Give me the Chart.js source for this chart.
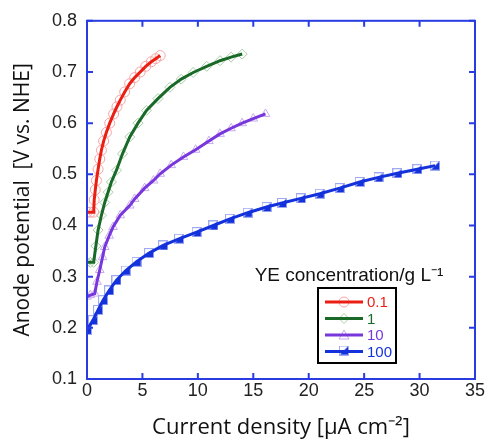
<!DOCTYPE html>
<html>
<head>
<meta charset="utf-8">
<script src="https://cdn.jsdelivr.net/npm/chart.js@4.4.1/dist/chart.umd.min.js"></script>
<style>
  html, body { margin: 0; padding: 0; background: #fff; }
  #wrap { width: 487px; height: 441px; }
</style>
</head>
<body>
<div id="wrap"><canvas id="anodeChart" width="487" height="441"></canvas></div>
<script>
// YE concentration series (g/L)
const seriesLabels = ['0.1', '1', '10', '100']

// current density [uA cm-2] and anode potential [V vs NHE]
const x01 = [0, 0.3, 0.6, 0.65, 0.75, 0.85, 1.0, 1.15, 1.3, 1.5, 1.75, 2.05, 2.4, 2.7, 3.0, 3.4, 3.85, 4.3, 4.8, 5.3, 5.8, 6.2, 6.6]
const y01 = [0.426, 0.426, 0.426, 0.45, 0.47, 0.488, 0.51, 0.53, 0.547, 0.565, 0.582, 0.6, 0.618, 0.632, 0.645, 0.661, 0.677, 0.689, 0.7, 0.711, 0.72, 0.726, 0.732]

const x1 = [0, 0.3, 0.6, 0.8, 1.0, 1.3, 1.6, 1.9, 2.2, 2.66, 3.2, 3.86, 4.6, 5.37, 6.4, 7.48, 8.5, 9.58, 10.8, 12.0, 13.0, 14.0]
const y1 = [0.328, 0.328, 0.328, 0.36, 0.391, 0.42, 0.445, 0.465, 0.485, 0.508, 0.54, 0.573, 0.6, 0.625, 0.648, 0.67, 0.686, 0.699, 0.711, 0.722, 0.729, 0.735]

const x10 = [0, 0.3, 0.7, 0.9, 1.15, 1.4, 1.6, 2.0, 2.35, 3.0, 3.86, 4.3, 5.2, 6.0, 6.6, 7.6, 8.7, 9.8, 11.0, 12.0, 13.0, 14.0, 15.0, 16.1]
const y10 = [0.261, 0.264, 0.267, 0.29, 0.313, 0.338, 0.358, 0.38, 0.397, 0.42, 0.439, 0.452, 0.473, 0.488, 0.501, 0.518, 0.534, 0.548, 0.565, 0.579, 0.59, 0.6, 0.609, 0.618]

const x100 = [0, 0.54, 1.0, 1.45, 2.0, 2.66, 3.5, 4.47, 5.6, 6.87, 8.3, 9.89, 11.4, 12.9, 14.5, 16.2, 17.6, 19.3, 21.0, 22.8, 24.6, 26.3, 28.0, 29.8, 31.4]
const y100 = [0.196, 0.215, 0.235, 0.254, 0.273, 0.293, 0.312, 0.329, 0.346, 0.361, 0.374, 0.387, 0.4, 0.413, 0.425, 0.436, 0.444, 0.453, 0.462, 0.473, 0.485, 0.494, 0.502, 0.51, 0.517]

const xTicks = [0, 5, 10, 15, 20, 25, 30, 35]
const yTicks = [0.1, 0.2, 0.3, 0.4, 0.5, 0.6, 0.7, 0.8]

const axisBlue = 'rgb(40, 60, 225)'
const lineColors = ['rgb(235, 30, 20)', 'rgb(25, 105, 40)', 'rgb(120, 55, 220)', 'rgb(20, 50, 220)']
const markColors = ['rgb(245, 165, 165)', 'rgb(165, 205, 165)', 'rgb(200, 170, 240)', 'rgb(160, 170, 240)']

const toPoints = (xs, ys) => xs.map((x, i) => ({ x, y: ys[i] }))

// square marker with filled lower-right triangle for 100 g/L
const makeHalfSquare = (size) => {
  const c = document.createElement('canvas')
  c.width = size
  c.height = size
  const g = c.getContext('2d')
  g.fillStyle = 'rgba(255,255,255,0.6)'
  g.fillRect(1, 1, size - 2, size - 2)
  g.strokeStyle = markColors[3]
  g.lineWidth = 1
  g.strokeRect(0.5, 0.5, size - 1, size - 1)
  g.beginPath()
  g.moveTo(1, size - 1)
  g.lineTo(size - 1, 1)
  g.lineTo(size - 1, size - 1)
  g.closePath()
  g.fillStyle = lineColors[3]
  g.fill()
  return c
}
const halfSquare = makeHalfSquare(10)

const pointStyles = ['circle', 'rectRot', 'triangle', halfSquare]
const pointRadii = [5, 5, 5, 5]
const allPoints = [toPoints(x01, y01), toPoints(x1, y1), toPoints(x10, y10), toPoints(x100, y100)]

const markerSets = allPoints.map((pts, i) => ({
  label: seriesLabels[i] + ' markers',
  data: pts,
  showLine: false,
  pointStyle: pointStyles[i],
  pointRadius: pointRadii[i],
  pointBorderColor: markColors[i],
  pointBackgroundColor: 'rgba(255,255,255,0)',
  pointBorderWidth: 1,
  order: 1,
}))

const lineSets = allPoints.map((pts, i) => ({
  label: seriesLabels[i],
  data: pts,
  borderColor: lineColors[i],
  borderWidth: 3,
  pointRadius: 0,
  tension: 0,
  order: 0,
}))

// frame, inward ticks, legend box
const frameAndLegend = {
  id: 'frameAndLegend',
  afterDatasetsDraw(chart) {
    const { ctx, chartArea: a, scales } = chart
    ctx.save()
    ctx.strokeStyle = axisBlue
    ctx.lineWidth = 2
    ctx.strokeRect(a.left, a.top, a.right - a.left, a.bottom - a.top)
    ctx.beginPath()
    xTicks.forEach((v) => {
      const px = scales.x.getPixelForValue(v)
      ctx.moveTo(px, a.bottom)
      ctx.lineTo(px, a.bottom - 6)
      ctx.moveTo(px, a.top)
      ctx.lineTo(px, a.top + 6)
    })
    yTicks.forEach((v) => {
      const py = scales.y.getPixelForValue(v)
      ctx.moveTo(a.left, py)
      ctx.lineTo(a.left + 6, py)
      ctx.moveTo(a.right, py)
      ctx.lineTo(a.right - 6, py)
    })
    ctx.stroke()

    // legend title
    ctx.fillStyle = '#111'
    ctx.font = '19px "Liberation Sans", Arial, sans-serif'
    ctx.textAlign = 'center'
    ctx.textBaseline = 'alphabetic'
    ctx.fillText('YE concentration/g L\u207B\u00B9', 349, 281)

    // legend box
    ctx.strokeStyle = '#000'
    ctx.lineWidth = 2
    ctx.strokeRect(318, 288, 78, 75)
    ctx.font = '15px "Liberation Sans", Arial, sans-serif'
    ctx.textAlign = 'left'
    ctx.textBaseline = 'middle'
    seriesLabels.forEach((lab, i) => {
      const y = 302 + i * 16.5
      const mx = 344
      // marker
      ctx.strokeStyle = markColors[i]
      ctx.lineWidth = 1
      ctx.beginPath()
      if (i === 0) {
        ctx.arc(mx, y, 5, 0, Math.PI * 2)
        ctx.stroke()
      } else if (i === 1) {
        ctx.moveTo(mx, y - 5); ctx.lineTo(mx + 5, y); ctx.lineTo(mx, y + 5); ctx.lineTo(mx - 5, y); ctx.closePath()
        ctx.stroke()
      } else if (i === 2) {
        ctx.moveTo(mx, y - 5); ctx.lineTo(mx + 5, y + 4); ctx.lineTo(mx - 5, y + 4); ctx.closePath()
        ctx.stroke()
      } else {
        ctx.drawImage(halfSquare, mx - 5, y - 6)
      }
      ctx.strokeStyle = lineColors[i]
      ctx.lineWidth = 3
      ctx.beginPath()
      ctx.moveTo(325, y)
      ctx.lineTo(363, y)
      ctx.stroke()
      ctx.fillStyle = lineColors[i]
      ctx.fillText(lab, 367, y + 1)
    })
    ctx.restore()
  },
}

new Chart(document.getElementById('anodeChart').getContext('2d'), {
  type: 'line',
  data: { datasets: [...markerSets, ...lineSets] },
  options: {
    responsive: false,
    animation: false,
    layout: { padding: { left: 10, top: 20, right: 12, bottom: 0 } },
    plugins: { legend: { display: false }, tooltip: { enabled: false } },
    scales: {
      x: {
        type: 'linear',
        min: 0,
        max: 35,
        afterBuildTicks: (s) => { s.ticks = xTicks.map((v) => ({ value: v })) },
        afterFit: (s) => { s.height = 62 },
        grid: { display: false, drawTicks: false },
        border: { display: false },
        ticks: {
          color: '#222',
          font: { family: '"Liberation Sans", Arial', size: 18 },
          padding: 1,
          maxRotation: 0,
        },
        title: {
          display: true,
          text: 'Current density [\u03BCA cm\u207B\u00B2]',
          color: '#111',
          font: { family: '"Open Sans"', size: 22 },
          padding: { top: 0, bottom: 0 },
        },
      },
      y: {
        type: 'linear',
        min: 0.1,
        max: 0.8,
        afterBuildTicks: (s) => { s.ticks = yTicks.map((v) => ({ value: v })) },
        afterFit: (s) => { s.width = 77 },
        grid: { display: false, drawTicks: false },
        border: { display: false },
        ticks: {
          color: '#222',
          font: { family: '"Liberation Sans", Arial', size: 18 },
          padding: 10,
          callback: (v) => v.toFixed(1),
        },
        title: {
          display: true,
          text: 'Anode potential  [V vs. NHE]',
          color: '#111',
          font: { family: '"Open Sans"', size: 21 },
          padding: { top: 0, bottom: 0 },
        },
      },
    },
  },
  plugins: [frameAndLegend],
})
</script>
</body>
</html>
